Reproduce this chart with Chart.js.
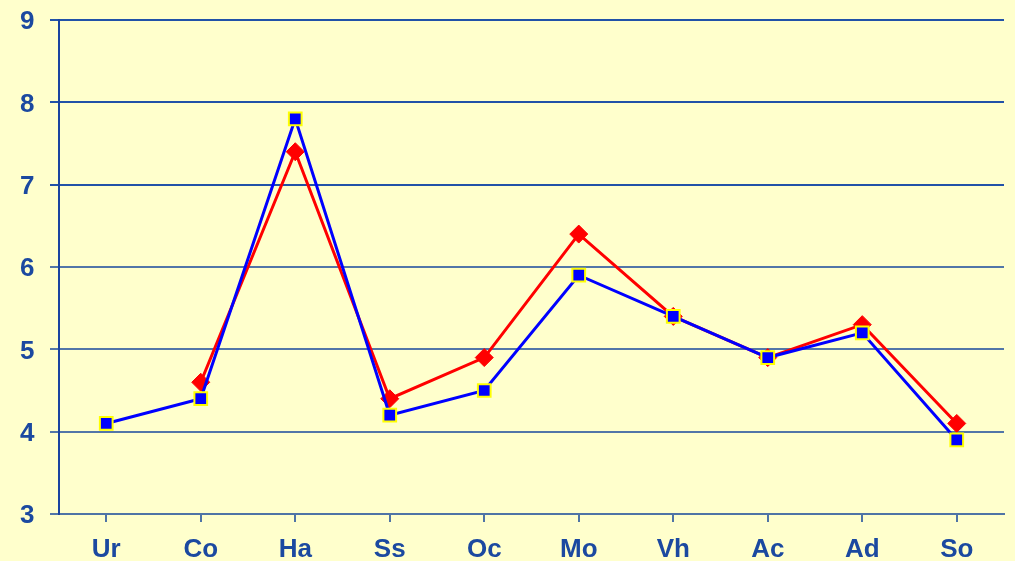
<!DOCTYPE html>
<html>
<head>
<meta charset="utf-8">
<script src="https://cdn.jsdelivr.net/npm/chart.js@4/dist/chart.umd.min.js"></script>
<style>
  html, body { margin: 0; padding: 0; background: #ffffcc; }
  #wrap { width: 1015px; height: 561px; }
</style>
</head>
<body>
<div id="wrap"><canvas id="grafico" width="1015" height="561"></canvas></div>
<script>
// categorias del eje x
const categorias = ['Ur', 'Co', 'Ha', 'Ss', 'Oc', 'Mo', 'Vh', 'Ac', 'Ad', 'So'];
// serie azul (cuadrados)
const serieAzul = [4.1, 4.4, 7.8, 4.2, 4.5, 5.9, 5.4, 4.9, 5.2, 3.9];
// serie roja (rombos), sin valor en Ur
const serieRoja = [null, 4.6, 7.4, 4.4, 4.9, 6.4, 5.4, 4.9, 5.3, 4.1];
// ticks del eje y
const ticksY = [3, 4, 5, 6, 7, 8, 9];

const colorTexto = '#1b49a0';

new Chart(document.getElementById('grafico'), {
    type: 'line',
    data: {
        labels: categorias,
        datasets: [
            {
                label: 'Azul',
                data: serieAzul,
                borderColor: '#0000ff',
                borderWidth: 3,
                pointStyle: 'rect',
                pointRadius: 9,
                pointBackgroundColor: '#0000ff',
                pointBorderColor: '#ffff00',
                pointBorderWidth: 2,
                tension: 0,
                order: 1
            },
            {
                label: 'Roja',
                data: serieRoja,
                borderColor: '#ff0000',
                borderWidth: 3,
                pointStyle: 'rectRot',
                pointRadius: 9,
                pointBackgroundColor: '#ff0000',
                pointBorderColor: '#ff0000',
                pointBorderWidth: 1,
                tension: 0,
                spanGaps: false,
                order: 2
            }
        ]
    },
    options: {
        responsive: false,
        animation: false,
        layout: { padding: { top: 20, right: 7, left: 20, bottom: 0 } },
        plugins: {
            legend: { display: false },
            tooltip: { enabled: false }
        },
        scales: {
            x: {
                offset: true,
                grid: {
                    drawOnChartArea: false,
                    tickLength: 8,
                    color: '#4f74a6',
                    lineWidth: 2
                },
                border: { color: '#4f74a6', width: 2 },
                ticks: {
                    color: colorTexto,
                    font: { family: 'Liberation Sans', size: 26, weight: 'bold' },
                    padding: 12,
                    maxRotation: 0
                },
                afterFit: (s) => { s.height = 47; }
            },
            y: {
                min: 3,
                max: 9,
                afterBuildTicks: (s) => { s.ticks = ticksY.map(v => ({ value: v })); },
                grid: {
                    tickLength: 9,
                    lineWidth: 2,
                    color: (ctx) => (ctx.tick && ctx.tick.value >= 7 ? '#2152a8' : '#5276a8')
                },
                border: { color: '#1a44a0', width: 2 },
                ticks: {
                    color: colorTexto,
                    font: { family: 'Liberation Sans', size: 26, weight: 'bold' },
                    padding: 0,
                    crossAlign: 'far',
                    labelOffset: 2
                },
                afterFit: (s) => { s.width = 39; }
            }
        }
    }
});
</script>
</body>
</html>
